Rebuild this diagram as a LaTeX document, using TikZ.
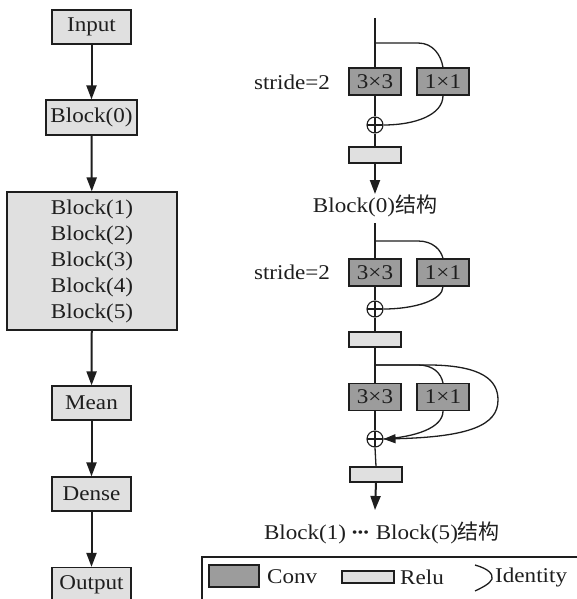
\documentclass[tikz,border=0pt]{standalone}
\usepackage{fontspec}
\setmainfont{Liberation Serif}[FakeStretch=1.1]
\newfontfamily\cjk{Noto Sans CJK SC}
\usetikzlibrary{arrows.meta}
\definecolor{ink}{HTML}{1E1E1E}
\definecolor{darkfill}{HTML}{9C9C9C}
\definecolor{lightfill}{HTML}{E0E0E0}
\tikzset{
  every node/.style={text=ink, font=\fontsize{21}{26}\selectfont},
  flowbox/.style={draw=ink, line width=1.2pt, fill=lightfill, minimum width=79pt, minimum height=34pt, inner sep=0pt},
  convbox/.style={draw=ink, line width=1.1pt, fill=darkfill, minimum width=52pt, minimum height=27pt, inner sep=0pt},
  relubox/.style={draw=ink, line width=1.1pt, fill=lightfill, minimum width=52pt, minimum height=16pt, inner sep=0pt},
  plusnode/.style={draw=ink, line width=1.1pt, circle, minimum size=16pt, inner sep=0pt,
    path picture={\draw[ink, line width=1.1pt] (path picture bounding box.north) -- (path picture bounding box.south)
      (path picture bounding box.west) -- (path picture bounding box.east);}},
  bigarrow/.style={draw=ink, line width=2pt, -{Triangle[length=14pt,width=10pt]}},
  thinline/.style={draw=ink, line width=1.3pt},
  curveline/.style={draw=ink, line width=1.3pt},
}
\begin{document}
\begin{tikzpicture}[x=1pt,y=-1pt]
\useasboundingbox (0,0) rectangle (576,599);
% left column
\node[flowbox] (in) at (91.5,27) {Input};
\node[flowbox, minimum width=91pt, minimum height=35pt] (b0) at (91.5,117.5) {Block(0)};
\node[flowbox, minimum width=170pt, minimum height=138pt, align=center] (bb) at (92,261) {Block(1)\\Block(2)\\Block(3)\\Block(4)\\Block(5)};
\node[flowbox] (mean) at (91.5,403) {Mean};
\node[flowbox] (dense) at (91.5,494) {Dense};
\node[flowbox] (out) at (91.5,584.5) {Output};
\draw[bigarrow] (in) -- (b0);
\draw[bigarrow] (b0) -- (bb);
\draw[bigarrow] (bb) -- (mean);
\draw[bigarrow] (mean) -- (dense);
\draw[bigarrow] (dense) -- (out);

% Block(0) structure
\coordinate (t0) at (375,18);
\coordinate (br0) at (375,43);
\node[convbox] (c33a) at (375,81.5) {3×3};
\node[convbox] (c11a) at (443,81.5) {1×1};
\node[plusnode] (p1) at (375,125) {};
\node[relubox] (r1) at (375,155) {};
\coordinate (e1) at (375,194);
\node (s1) at (292,82) {stride=2};
\node (l1) at (375,206) {Block(0){\cjk 结构}};
\draw[thinline] (t0) -- (c33a.north);
\draw[thinline] (c33a.south) -- (p1.north);
\draw[thinline] (p1.south) -- (r1.north);
\draw[bigarrow] (r1.south) -- (e1);
\draw[curveline] (br0) -- (418,43) .. controls (433,43) and (441,55) .. (c11a.north);
\draw[curveline] (c11a.south) .. controls (443,115) and (415,125) .. (p1.east);

% Block(1..5) structure
\coordinate (t1) at (375,223);
\coordinate (br1) at (375,241);
\node[convbox] (c33b) at (375,272.5) {3×3};
\node[convbox] (c11b) at (443,272.5) {1×1};
\node[plusnode] (p2) at (375,309) {};
\node[relubox, minimum height=15pt] (r2) at (375,339.5) {};
\coordinate (br2) at (375,365);
\node[convbox] (c33c) at (375,397) {3×3};
\node[convbox] (c11c) at (443,397) {1×1};
\node[plusnode] (p3) at (375,439) {};
\node[relubox, minimum height=15pt] (r3) at (376,474.5) {};
\coordinate (e2) at (375,510);
\node (s2) at (292,272.5) {stride=2};
\node (l2) at (382,533) {Block(1) {\bfseries\kern-1pt·\kern-2pt·\kern-2pt·} Block(5){\cjk 结构}};
\draw[thinline] (t1) -- (c33b.north);
\draw[thinline] (c33b.south) -- (p2.north);
\draw[thinline] (p2.south) -- (r2.north);
\draw[thinline] (r2.south) -- (c33c.north);
\draw[thinline] (c33c.south) -- (p3.north);
\draw[thinline] (p3.south) -- (r3.north);
\draw[bigarrow] (r3.south) -- (e2);
\draw[curveline] (br1) -- (418,241) .. controls (433,241) and (441,250) .. (c11b.north);
\draw[curveline] (c11b.south) .. controls (443,300) and (415,309) .. (p2.east);
\draw[curveline] (br2) -- (418,365) .. controls (433,365) and (441,373) .. (c11c.north);
\draw[curveline] (c11c.south) .. controls (443,428) and (415,437) .. (p3.east);
\draw[curveline, -{Triangle[length=12pt,width=9pt]}] (br2) -- (432,365) .. controls (482,366) and (498,380) .. (498,400) .. controls (498,425) and (470,437) .. (p3.east);

% legend
\draw[ink, line width=1.2pt] (202,608) -- (202,557) -- (590,557);
\node[convbox, minimum width=50pt, minimum height=22pt] (lgconv) at (234,576) {};
\node[anchor=west, inner sep=0pt] (tconv) at (267,577) {Conv};
\node[relubox, minimum height=12pt] (lgrelu) at (368,577) {};
\node[anchor=west, inner sep=0pt] (trelu) at (400,577) {Relu};
\draw[curveline] (475,565) .. controls (489,569) and (493,574) .. (492,579) .. controls (490,584) and (481,588) .. (475,591);
\node[anchor=west, inner sep=0pt] (tid) at (495,577) {Identity};
\end{tikzpicture}
\end{document}
